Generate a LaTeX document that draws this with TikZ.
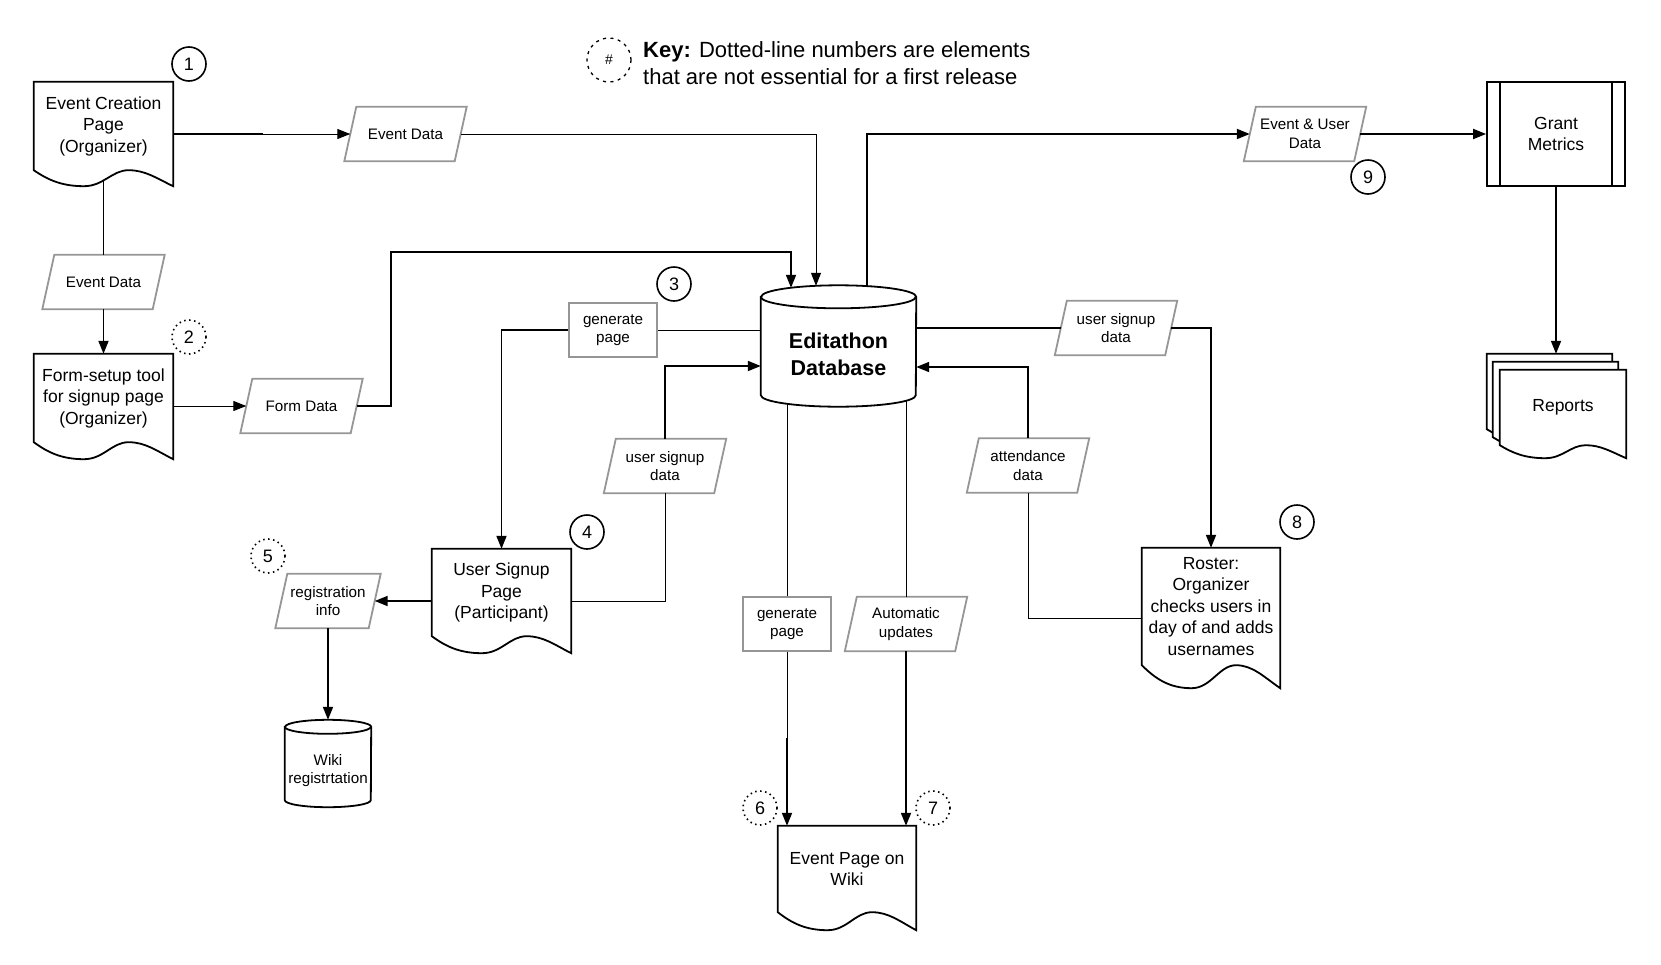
\documentclass[tikz,border=0pt]{standalone}
\usepackage{fontspec}
\setmainfont{Liberation Sans}
\usetikzlibrary{calc,arrows.meta}
\pgfdeclarelayer{bg}
\pgfsetlayers{bg,main}
\definecolor{paragray}{RGB}{150,150,150}
\newcommand\fDoc{\fontsize{17.5}{21.5}\selectfont}
\newcommand\fSmall{\fontsize{15.2}{18.5}\selectfont}
\newcommand\fDB{\fontsize{21.5}{26.5}\selectfont\bfseries}
\newcommand\fKey{\fontsize{22}{27}\selectfont}
\newcommand\fNum{\fontsize{18}{20}\selectfont}
\newcommand\fHash{\fontsize{14}{16}\selectfont}
% document outline: node name, wave amplitude
\newcommand\docout[2]{%
 \draw[shapeline] (#1.north west) -- (#1.north east) -- ($(#1.south east)+(0,#2)$)
  .. controls ($(#1.south west)!0.88!(#1.south east)+(0,{0.5*#2})$) and ($(#1.south west)!0.8!(#1.south east)$) .. ($(#1.south west)!0.68!(#1.south east)$)
  .. controls ($(#1.south west)!0.56!(#1.south east)$) and ($(#1.south west)!0.5!(#1.south east)+(0,#2)$) .. ($(#1.south west)!0.36!(#1.south east)+(0,#2)$)
  .. controls ($(#1.south west)!0.2!(#1.south east)+(0,#2)$) and ($(#1.south west)!0.1!(#1.south east)+(0,{0.6*#2})$) .. (#1.south west) -- cycle;}
% parallelogram outline: node name, half slant
\newcommand\paraout[2]{%
 \draw[paraline] ($(#1.north west)+(#2,0)$) -- ($(#1.north east)+(#2,0)$) -- ($(#1.south east)+(-#2,0)$) -- ($(#1.south west)+(-#2,0)$) -- cycle;}
% cylinder outline: node, rx, ry, top offset, bottom offset
\newcommand\cylout[5]{%
 \draw[shapeline] ($(#1.north west)+(0,-#4)$) -- ($(#1.south west)+(0,-#5)$) arc[start angle=180,end angle=360,x radius=#2,y radius=#3] -- ($(#1.north east)+(0,-#4)$) arc[start angle=0,end angle=180,x radius=#2,y radius=#3] -- cycle;
 \draw[line width=1.8pt] ($(#1.north west)+(0,-#4)$) arc[start angle=180,end angle=360,x radius=#2,y radius=#3];}
\begin{document}
\begin{tikzpicture}[x=1pt,y=-1pt,
  docbox/.style={inner sep=0pt, align=center, font=\fDoc},
  parabox/.style={inner sep=0pt, minimum width=110pt, minimum height=54pt, align=center, font=\fSmall},
  rectbox/.style={draw=paragray, line width=1.8pt, fill=white, inner sep=0pt, minimum width=88pt, minimum height=54pt, align=center, font=\fSmall},
  shapeline/.style={draw=black, line width=1.8pt, fill=white},
  paraline/.style={draw=paragray, line width=1.8pt, fill=white},
  tk/.style={line width=1.8pt},
  tn/.style={line width=1pt},
  arr/.style={-{Triangle[length=13pt,width=10pt]}},
  numc/.style={circle, draw, line width=1.6pt, minimum size=34pt, inner sep=0pt, font=\fNum},
  numcd/.style={numc, dash pattern=on 1.5pt off 3.5pt},
  keyc/.style={circle, draw, line width=1.3pt, minimum size=44pt, inner sep=0pt, font=\fHash, dash pattern=on 3pt off 4.5pt}]
\useasboundingbox (0,0) rectangle (1661,964);

% key
\node[keyc] (key) at (609,60) {\#};
\node[anchor=west, align=left, font=\fKey, inner sep=0pt] (keytext) at (643,63.5) {\textbf{Key:} Dotted-line numbers are elements\\that are not essential for a first release};

% documents
\node[docbox, minimum width=139pt, minimum height=88pt] (EC) at (103.5,126) {Event Creation\\Page\\(Organizer)};
\node[docbox, minimum width=139pt, minimum height=88pt] (FS) at (103.5,398) {Form-setup tool\\for signup page\\(Organizer)};
\node[docbox, minimum width=139pt, minimum height=87pt] (US) at (501.5,592.5) {User Signup\\Page\\(Participant)};
\node[docbox, minimum width=138pt, minimum height=86pt] (EP) at (847,869) {Event Page on\\Wiki};
\node[docbox, minimum width=138pt, minimum height=117pt] (RO) at (1211,606.5) {Roster:\\Organizer\\checks users in\\day of and adds\\usernames};
\node[docbox, minimum width=125pt, minimum height=75pt] (R1) at (1549.5,391.5) {};
\node[docbox, minimum width=125pt, minimum height=75pt] (R2) at (1555.5,399.5) {};
\node[docbox, minimum width=126pt, minimum height=75pt] (R3) at (1563,407.5) {Reports};

% predefined process
\node[draw, line width=1.8pt, fill=white, minimum width=138pt, minimum height=104pt, align=center, font=\fDoc] (GM) at (1556,134) {Grant\\Metrics};
\draw[tk] ([xshift=14pt]GM.north west) -- ([xshift=14pt]GM.south west);
\draw[tk] ([xshift=-14pt]GM.north east) -- ([xshift=-14pt]GM.south east);

% databases
\node[inner sep=0pt, minimum width=155pt, minimum height=103pt, align=center, font=\fDB] (DB) at (838.5,354.5) {Editathon\\Database};
\node[inner sep=0pt, minimum width=86pt, minimum height=73pt, align=center, font=\fSmall] (WR) at (328,770.5) {Wiki\\registrtation};

% data (parallelograms)
\node[parabox] (ED1) at (405.5,134) {Event Data};
\node[parabox] (ED2) at (103.5,282) {Event Data};
\node[parabox] (FD) at (301.5,406) {Form Data};
\node[parabox] (USD1) at (665,466) {user signup\\data};
\node[parabox] (ATT) at (1028,465.5) {attendance\\data};
\node[parabox] (USD2) at (1116,328) {user signup\\data};
\node[parabox] (EUD) at (1305,134) {Event \& User\\Data};
\node[parabox, minimum width=93pt] (RI) at (328,601) {registration\\info};
\node[parabox] (AU) at (906,624) {Automatic\\updates};

% process boxes
\node[rectbox] (G3) at (613,330) {generate\\page};
\node[rectbox] (G6) at (787,624) {generate\\page};

% numbers
\node[numc] (n1) at (189,64) {1};
\node[numcd] (n2) at (189,337) {2};
\node[numc] (n3) at (674,284) {3};
\node[numc] (n4) at (587,532) {4};
\node[numcd] (n5) at (268,556) {5};
\node[numcd] (n6) at (760,808) {6};
\node[numcd] (n7) at (933,808) {7};
\node[numc] (n8) at (1297,522) {8};
\node[numc] (n9) at (1368,177) {9};

% outlines
\begin{pgfonlayer}{bg}
 \docout{EC}{16}
 \docout{FS}{17}
 \docout{US}{17}
 \docout{EP}{18}
 \docout{RO}{23}
 \docout{R1}{13}
 \docout{R2}{13}
 \docout{R3}{13}
 \paraout{ED1}{6}
 \paraout{ED2}{6}
 \paraout{FD}{6}
 \paraout{USD1}{6}
 \paraout{ATT}{6}
 \paraout{USD2}{6}
 \paraout{EUD}{6}
 \paraout{RI}{6}
 \paraout{AU}{6}
 \cylout{DB}{77.5pt}{11.5pt}{6}{11}
 \cylout{WR}{43pt}{7pt}{7}{7}
\end{pgfonlayer}

% connectors
\draw[tn,arr] (EC.east |- ED1.west) -- (ED1.west);
\draw[tk] (EC.east |- ED1.west) -- ++(90,0);
\draw[tn,arr] (ED1.east) -| ($(DB.north)+(-22.5,-17)$);

\draw[tk] ($(EC.south)+(0,10)$) -- (ED2.north);
\draw[tk,arr] (ED2.south) -- (ED2.south |- FS.north);

\draw[tn,arr] (FS.east |- FD.west) -- (FD.west);
\draw[tk,arr] (FD.east) -| ++(34,-154) -| ($(DB.north)+(-47.5,-15)$);

\draw[tn] (DB.west |- G3.east) -- (G3.east);
\draw[tk,arr] (G3.west) -| (US.north);

\draw[tn] ($(US.east)+(0,8.5)$) -| (USD1.south);
\draw[tk,arr] (USD1.north) |- ($(DB.west)+(0,11.5)$);

\draw[tk,arr] (US.west |- RI.east) -- (RI.east);
\draw[tk,arr] (RI.south) -- ($(WR.north)+(0,-14)$);

\draw[tn] ($(DB.south -| G6.north)+(0,-2.4)$) -- (G6.north);
\draw[tn] (G6.south) -- ($(G6.south |- EP.north)+(0,-88)$);
\draw[tk,arr] ($(G6.south |- EP.north)+(0,-88)$) -- (G6.south |- EP.north);

\draw[tn] ($(DB.south -| AU.north)+(0,-5.4)$) -- (AU.north);
\draw[tk,arr] (AU.south) -- (AU.south |- EP.north);

\draw[tk] (DB.east |- USD2.west) -- (USD2.west);
\draw[tk,arr] (USD2.east) -| (RO.north);

\draw[tn] ($(RO.west)+(0,11.5)$) -| (ATT.south);
\draw[tk,arr] (ATT.north) |- ($(DB.east)+(0,12.5)$);

\draw[tk,arr] ($(DB.north)+(28.5,-16.7)$) |- (EUD.west);
\draw[tk,arr] (EUD.east) -- (GM.west);
\draw[tk,arr] (GM.south) -- (GM.south |- R1.north);
\end{tikzpicture}
\end{document}
